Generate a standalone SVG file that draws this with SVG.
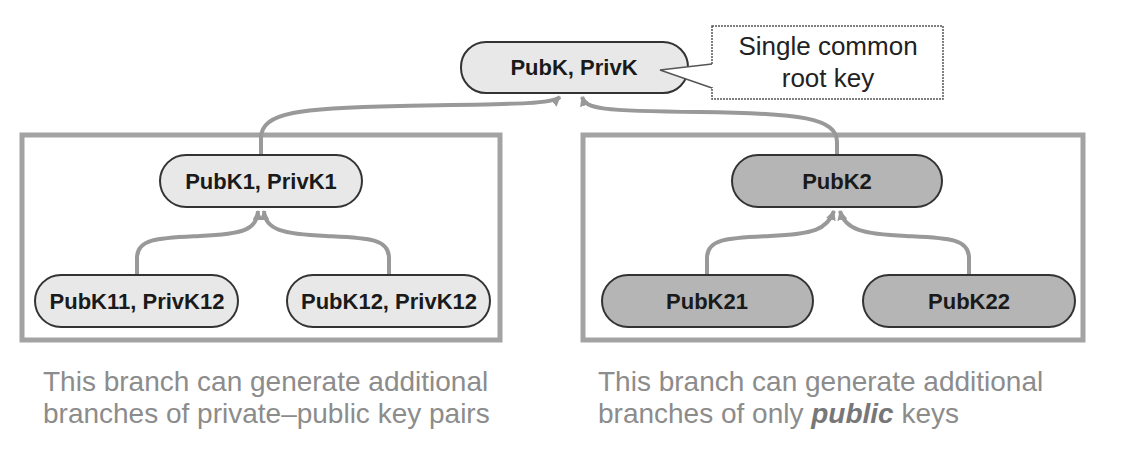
<svg xmlns="http://www.w3.org/2000/svg" width="1138" height="470" viewBox="0 0 1138 470">
  <defs>
    <marker id="arr" viewBox="0 0 10 10" refX="9" refY="5" markerWidth="10" markerHeight="10" markerUnits="userSpaceOnUse" orient="auto">
      <path d="M0,0 L10,5 L0,10 z" fill="#999"/>
    </marker>
    <style>
      .box { fill: #fff; stroke: #a3a3a3; stroke-width: 5; }
      .light { fill: #e8e8e8; stroke: #333; stroke-width: 2; }
      .dark { fill: #b5b5b5; stroke: #333; stroke-width: 2; }
      .nt { font-family: "Liberation Sans", Arial, sans-serif; font-weight: bold; font-size: 22px; fill: #1a1a1a; text-anchor: middle; }
      .ct { font-family: "Liberation Sans", Arial, sans-serif; font-size: 26px; fill: #222; text-anchor: middle; }
      .cap { font-family: "Liberation Sans", Arial, sans-serif; font-size: 28px; fill: #8c8c8c; }
      .conn { fill: none; stroke: #999; stroke-width: 4; marker-end: url(#arr); }
    </style>
  </defs>
  <rect width="1138" height="470" fill="#fff"/>

  <g id="branch-left"><rect class="box" x="22" y="135" width="478" height="205"/></g>
  <g id="branch-right"><rect class="box" x="583" y="135" width="500" height="205"/></g>

  <g id="connectors">
    <path class="conn" d="M137,275 V258 C137,238 160,238 200,236 C243,234 257,230 258,211"/>
    <path class="conn" d="M389,275 V258 C389,238 366,238 326,236 C283,234 265,230 264,211"/>
    <path class="conn" d="M261,155 V138 C261,112 300,108 400,106 C520,104 552,104 560,97"/>
    <path class="conn" d="M837,155 V142 C837,118 800,113 700,112 C600,111 586,109 582,97"/>
    <path class="conn" d="M707,275 V258 C707,238 730,238 770,236 C813,234 827,230 834,211"/>
    <path class="conn" d="M969,275 V258 C969,238 946,238 906,236 C863,234 845,230 840,211"/>
  </g>

  <g id="root">
    <rect class="light" x="461" y="42" width="227" height="51" rx="25" ry="25"/>
    <text class="nt" x="574" y="75">PubK, PrivK</text>
  </g>

  <g id="callout">
    <path d="M712,64 L660,70 L712,88" fill="#fff" stroke="#555" stroke-width="1.5"/>
    <rect x="712" y="26" width="231" height="73" fill="#fff" stroke="#555" stroke-width="1.5" stroke-dasharray="2 1"/>
    <line x1="712" y1="65" x2="712" y2="87" stroke="#fff" stroke-width="2"/>
    <text class="ct" x="828" y="55">Single common</text>
    <text class="ct" x="828" y="87">root key</text>
  </g>

  <g id="pubk1">
    <rect class="light" x="160" y="155" width="202" height="52" rx="26" ry="26"/>
    <text class="nt" x="261" y="189">PubK1, PrivK1</text>
  </g>
  <g id="pubk11">
    <rect class="light" x="35" y="275" width="203" height="52" rx="26" ry="26"/>
    <text class="nt" x="137" y="309">PubK11, PrivK12</text>
  </g>
  <g id="pubk12">
    <rect class="light" x="287" y="275" width="203" height="52" rx="26" ry="26"/>
    <text class="nt" x="389" y="309">PubK12, PrivK12</text>
  </g>

  <g id="pubk2">
    <rect class="dark" x="732" y="155" width="210" height="52" rx="26" ry="26"/>
    <text class="nt" x="837" y="189">PubK2</text>
  </g>
  <g id="pubk21">
    <rect class="dark" x="602" y="275" width="211" height="52" rx="26" ry="26"/>
    <text class="nt" x="707" y="309">PubK21</text>
  </g>
  <g id="pubk22">
    <rect class="dark" x="863" y="275" width="212" height="52" rx="26" ry="26"/>
    <text class="nt" x="969" y="309">PubK22</text>
  </g>

  <g id="captions">
    <text class="cap" x="43" y="391">This branch can generate additional</text>
    <text class="cap" x="43" y="423">branches of private–public key pairs</text>
    <text class="cap" x="598" y="391">This branch can generate additional</text>
    <text class="cap" x="598" y="423">branches of only <tspan font-weight="bold" font-style="italic" fill="#777">public</tspan> keys</text>
  </g>
</svg>
